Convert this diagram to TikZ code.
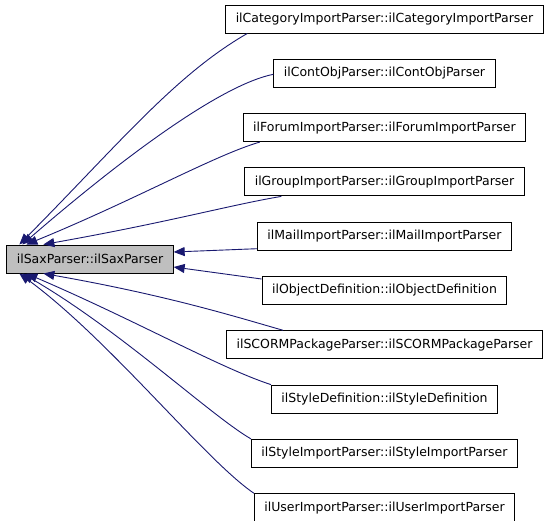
\documentclass[tikz,border=0pt]{standalone}
\usepackage{fontspec}
\setmainfont{DejaVu Sans}
\usepackage{tikz}
\usetikzlibrary{positioning,arrows.meta}
\definecolor{EdgeBlue}{RGB}{25,25,112}
\definecolor{BaseGray}{RGB}{191,191,191}

\begin{document}
\begin{tikzpicture}[%
      x=1pt, y=-1pt,
      node distance=25.3pt,
      cls/.style={rectangle, draw=black, fill=white, line width=1pt, font=\fontsize{12.5}{15}\selectfont, inner xsep=10pt, minimum height=28pt},
      base/.style={cls, fill=BaseGray},
      edge/.style={-{Triangle[length=11pt,width=9pt]}, line width=0.9pt, EdgeBlue}
    ]
      \useasboundingbox (0,0) rectangle (552,520);

      % Nodes
      \node[base] (sax) at (90,259) {ilSaxParser::ilSaxParser};
      \node[cls] (cat) at (384.5,19) {ilCategoryImportParser::ilCategoryImportParser};
      \node[cls, below=of cat] (cont) {ilContObjParser::ilContObjParser};
      \node[cls, below=of cont] (forum) {ilForumImportParser::ilForumImportParser};
      \node[cls, below=of forum] (group) {ilGroupImportParser::ilGroupImportParser};
      \node[cls, below=of group] (mail) {ilMailImportParser::ilMailImportParser};
      \node[cls, below=of mail] (objdef) {ilObjectDefinition::ilObjectDefinition};
      \node[cls, below=of objdef] (scorm) {ilSCORMPackageParser::ilSCORMPackageParser};
      \node[cls, below=of scorm] (styledef) {ilStyleDefinition::ilStyleDefinition};
      \node[cls, below=of styledef] (styleimp) {ilStyleImportParser::ilStyleImportParser};
      \node[cls, below=of styleimp] (user) {ilUserImportParser::ilUserImportParser};

      % Connections
      \draw[edge] ([xshift=22pt]cat.south west) .. controls (175,75) and (118,145) .. ([xshift=13pt]sax.north west);
      \draw[edge] ([yshift=-1pt]cont.west) .. controls (220,85) and (120,160) .. ([xshift=16pt]sax.north west);
      \draw[edge] ([xshift=17pt]forum.south west) .. controls (215,155) and (135,200) .. ([xshift=20pt]sax.north west);
      \draw[edge] ([xshift=37pt]group.south west) .. controls (230,205) and (170,222) .. ([xshift=37pt]sax.north west);
      \draw[edge] ([yshift=2pt]mail.south west) -- ([yshift=7pt]sax.east);
      \draw[edge] ([yshift=-3pt]objdef.north west) -- ([yshift=-8pt]sax.east);
      \draw[edge] ([xshift=57pt]scorm.north west) .. controls (230,315) and (165,295) .. ([xshift=37pt]sax.south west);
      \draw[edge] (styledef.north west) .. controls (220,368) and (135,320) .. ([xshift=20pt]sax.south west);
      \draw[edge] (styleimp.north west) .. controls (210,415) and (120,330) .. ([xshift=16pt]sax.south west);
      \draw[edge] (user.north west) .. controls (205,460) and (110,340) .. ([xshift=13pt]sax.south west);
    \end{tikzpicture}
\end{document}
